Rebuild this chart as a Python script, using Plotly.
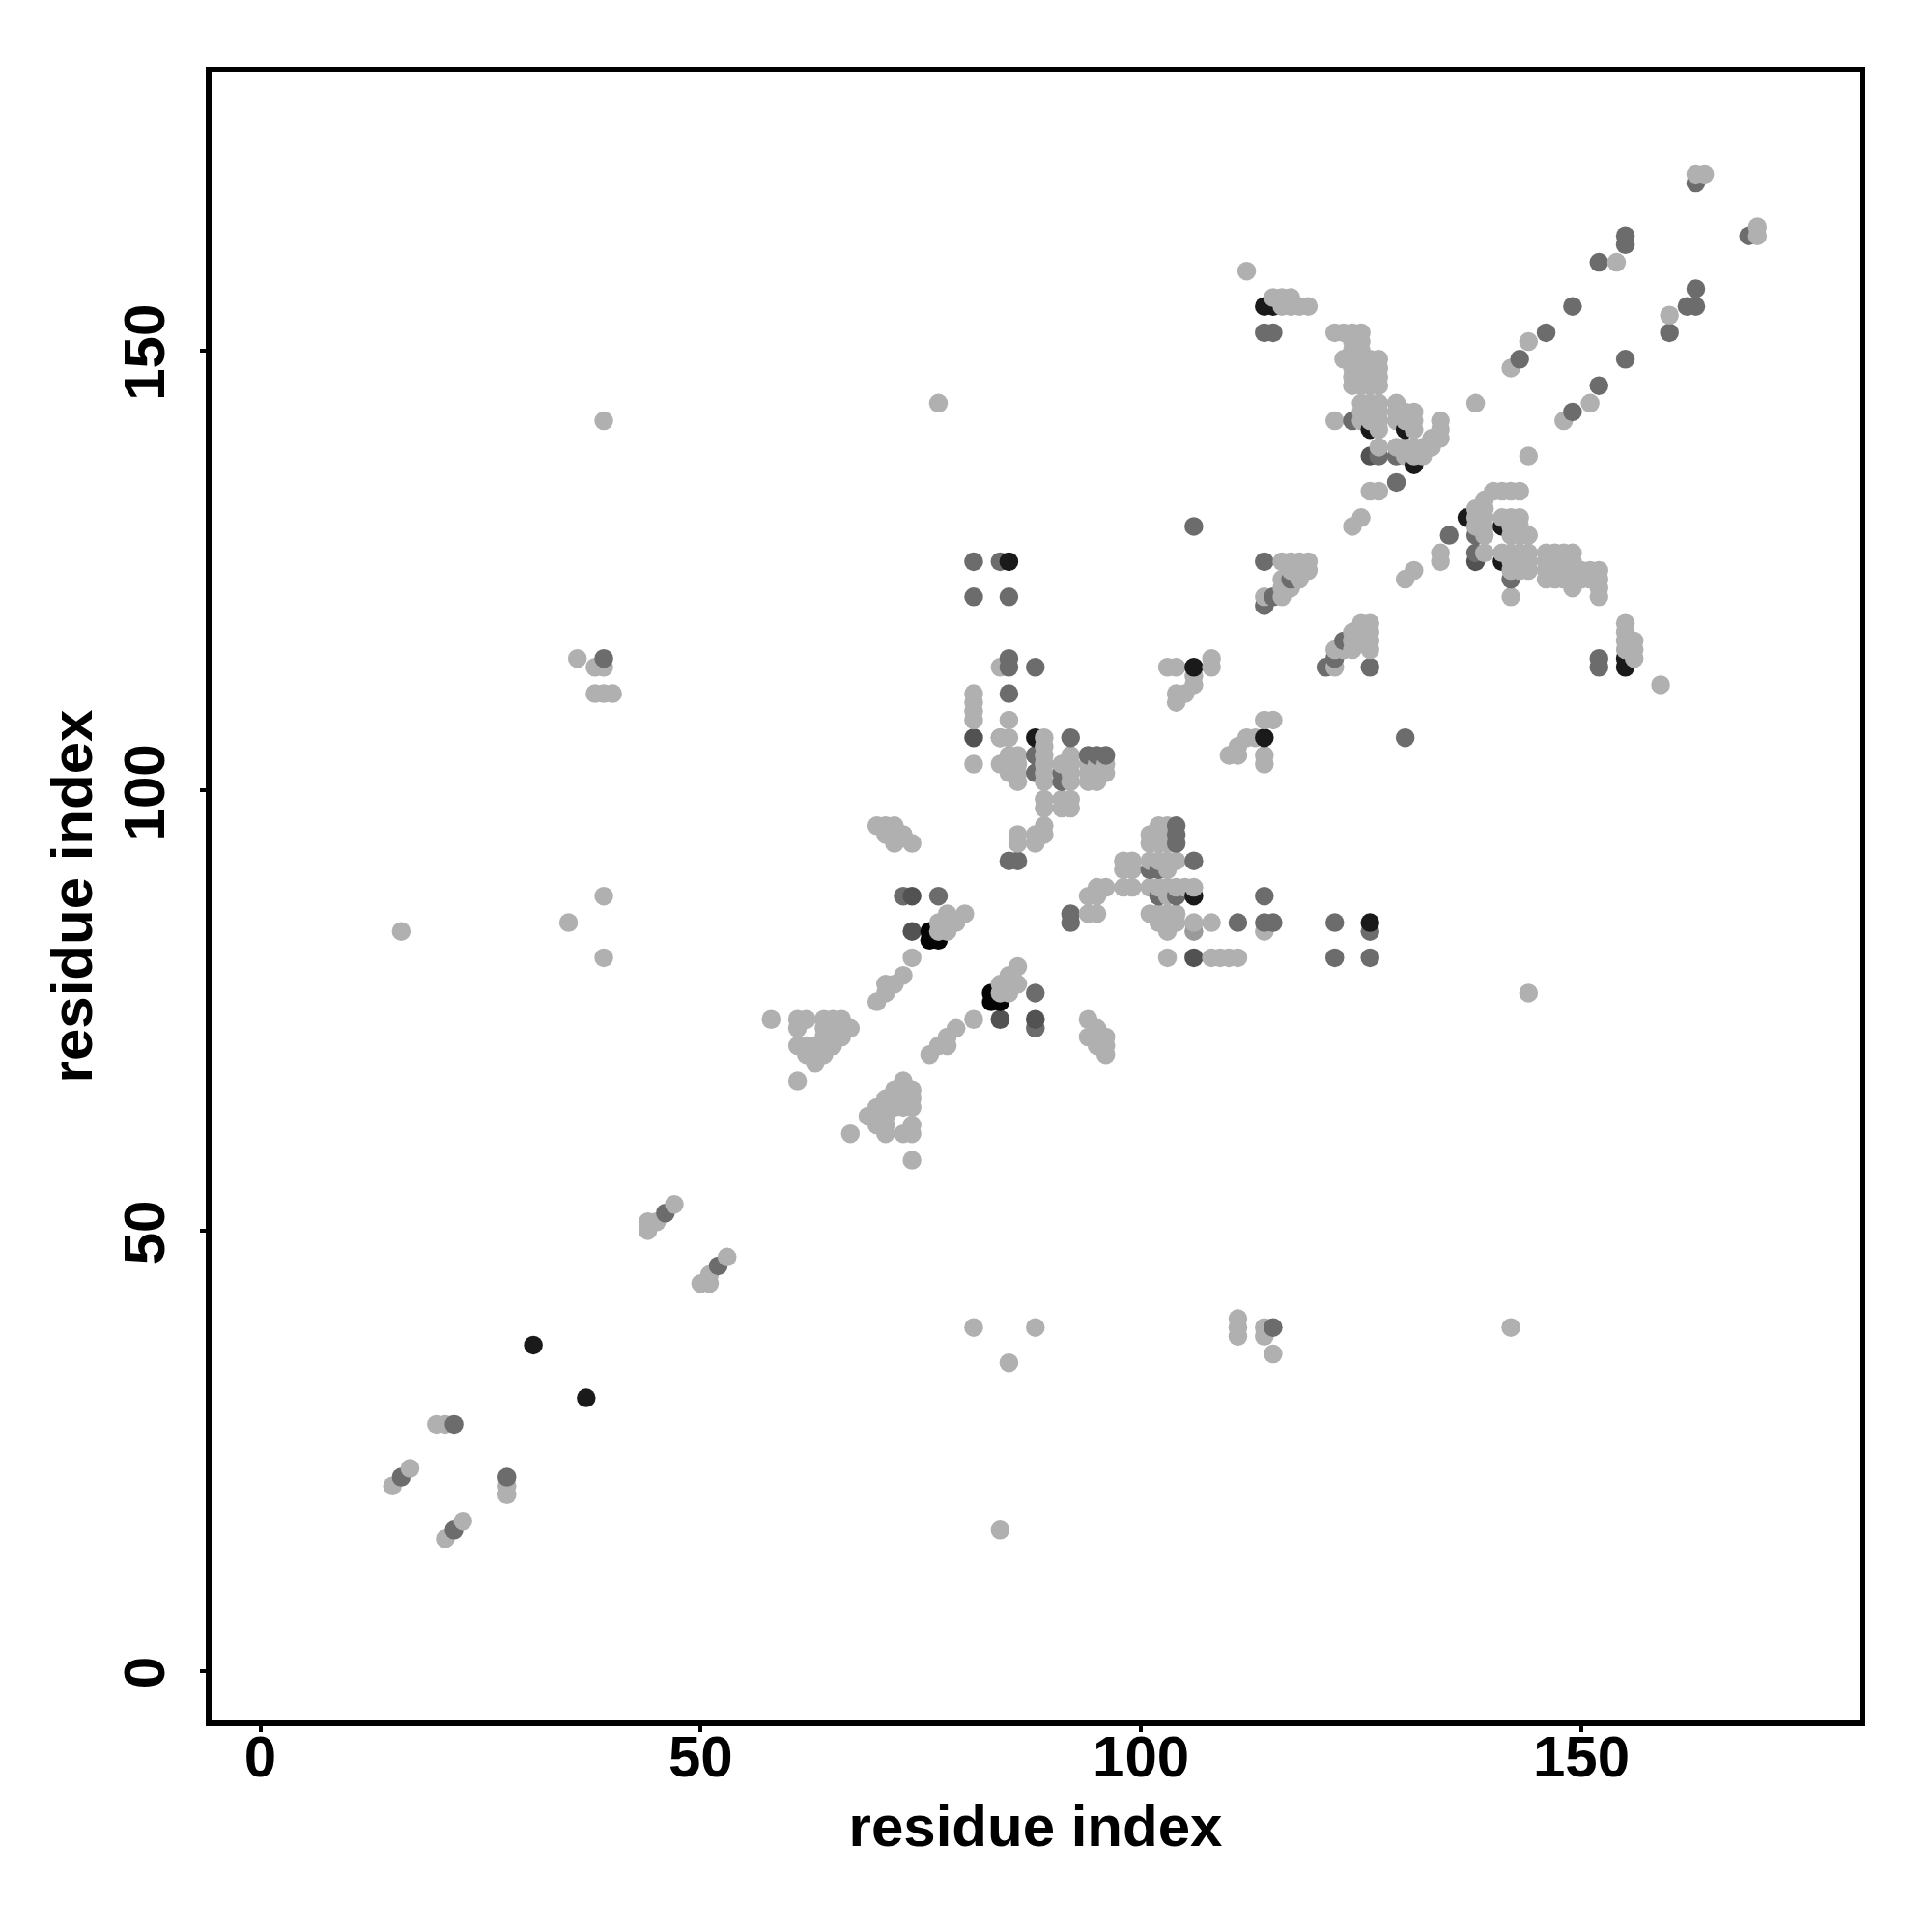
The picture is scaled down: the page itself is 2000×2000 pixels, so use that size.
import plotly.graph_objects as go

# residue contacts, grouped by y-residue: {j: [i, ...]}
light_rows = {
    170:[163,164],164:[170],163:[170],160:[154],159:[112],156:[115,116,117],155:[116,117,118,119],
    154:[160],152:[122,123,124,125],151:[124,125,144],150:[124,125],149:[123,124,125,126,127],
    148:[124,125,126,127,142],147:[124,125,126,127],146:[124,125,126,127],
    144:[77,125,126,127,129,138,151],143:[125,126,127,129,130,131],
    142:[39,122,125,126,127,129,130,131,134,148],141:[127,131,134],140:[133,134],
    139:[127,129,130,131,132,133],138:[130,131,132,144],134:[126,127,140,141,142,143],133:[139],
    132:[138,139],131:[125,138,139,141,142,143],130:[124,138,139,142,143],129:[139,142,143,144],
    127:[134,139,141,142,143,144,146,147,148,149],
    126:[116,117,118,119,134,142,143,144,146,147,148,149],
    125:[117,118,119,131,142,143,144,146,147,148,149,150,151,152],
    124:[116,118,130,146,147,148,149,150,151,152],123:[116,117,149,152],122:[114,116,142,152],
    119:[125,126,155],118:[124,125,126,155],117:[124,125,126,155,156],
    116:[122,123,124,126,155,156],115:[36,108,156],114:[38,39,84,103,104,108,122],
    113:[106],112:[106,159],111:[38,39,40,81,104,105],110:[81,104],109:[81],108:[81,85,114,115],
    106:[84,85,89,112,113],105:[89,111],104:[85,86,89,92,110,111,114],
    103:[81,84,85,86,89,91,92,94,95,96,114],102:[85,86,89,92,94,95,96],101:[86,89,92,94,95],
    99:[89,91,92],98:[89,91,92],96:[70,71,72,89,102,103],95:[71,72,73,86,88,89,101,102,103],
    94:[72,74,86,88,101,102,103],92:[98,99,101,102,103,104],91:[98,99,103],
    89:[95,96,98,99,101,102,103,104,105,106],88:[39,94,95,103],86:[78,80,94,95,101,102,103,104],
    85:[35,77,78,79,102,103,104,106,108],84:[16,77,78,103,114],81:[39,74,103,108,109,110,111],
    80:[86],79:[73,85],78:[71,72,84,85,86],77:[71,84,85,144],76:[70],
    74:[58,61,62,64,65,66,81,94],73:[61,64,65,66,67,79,95],72:[64,65,66,78,94,96],
    71:[61,62,63,64,65,77,78,95,96],70:[62,63,64,76,96],69:[63],67:[61,73],66:[72,73,74],
    65:[71,72,73,74],64:[70,71,72,73,74],63:[69,70,71],62:[70,71,74],61:[67,71,73,74],58:[74],
    53:[47],51:[44,45],50:[44],47:[53],45:[51],44:[50,51],40:[111],39:[81,88,111,114,142],
    38:[111,114],36:[115],35:[85],28:[20,21],23:[17],21:[15,28],20:[28],17:[23],16:[84],15:[21],
}
mid_rows = {84:[106],106:[84]}
dark_rows = {
    169:[163],163:[155,169],162:[155],160:[152],157:[163],155:[149,162,163],152:[114,115,146,160],
    149:[143,155],146:[152],143:[149],142:[124],138:[127,129],135:[129],130:[106],129:[135,138],
    127:[138],126:[81,84,114],124:[117,142],122:[81,85,115],121:[114],117:[123],
    115:[39,85,122,152],114:[85,88,121,126,152],111:[85],106:[92,130],104:[88,94,95,96],
    102:[88,91],101:[91],96:[104],95:[104],94:[104],92:[85,86,106],91:[101,102],
    88:[73,77,102,104,114],86:[92],85:[92,111,114,115,122],84:[126],81:[122,126],77:[88],73:[88],
    52:[46],46:[52],39:[115],28:[22],22:[16,28],16:[22],
}
deep_rows = {138:[126],126:[138],106:[81],88:[74],84:[74],81:[106],74:[84,88]}
black_rows = {
    155:[114,115],141:[126,130],137:[131],131:[137],130:[141],126:[85,141],115:[155],
    114:[106,155],106:[88,114],88:[106],85:[126],37:[31],31:[37],
}
jet_rows = {84:[76],83:[76,77],77:[83],76:[83,84]}

x_ticks = [0, 50, 100, 150]
x_title = "residue index"
y_title = "residue index"

FONT = "Liberation Sans"

points = []
for rows, colour in [(jet_rows, "#050505"), (black_rows, "#1a1a1a"), (deep_rows, "#525252"),
                     (dark_rows, "#6c6c6c"), (mid_rows, "#9a9a9a"), (light_rows, "#b0b0b0")]:
    for j, items in rows.items():
        for i in items:
            points.append((i, j, colour))
# the reference paints contacts residue by residue: later ones sit on top
points.sort(key=lambda p: (p[0], p[1]))

fig = go.Figure(go.Scatter(
    x=[p[0] for p in points], y=[p[1] for p in points], mode="markers", showlegend=False,
    marker=dict(size=19.5, color=[p[2] for p in points], line=dict(width=0))))

tick_font = dict(family=FONT, size=60, color="black", weight="bold")
axis = dict(showgrid=False, zeroline=False, showline=True, mirror=True, linecolor="black", linewidth=6,
            ticks="outside", ticklen=6, tickwidth=3.5, tickcolor="black",
            tickvals=x_ticks, ticktext=[str(v) for v in x_ticks], tickfont=tick_font)
fig.update_layout(
    width=2000, height=2000, paper_bgcolor="white", plot_bgcolor="white",
    margin=dict(l=211.3, r=83, t=67, b=227.3, autoexpand=False),
    font=dict(family=FONT, color="black"),
    xaxis=dict(axis, range=[-5.54, 181.59], ticklabelstandoff=-26,
               title=dict(text=x_title, font=dict(family=FONT, size=60, color="black", weight="bold"), standoff=20)),
    yaxis=dict(axis, range=[-5.64, 181.57], tickangle=-90, ticklabelstandoff=13, ticklabelshift=11,
               title=dict(text=y_title, font=dict(family=FONT, size=60, color="black", weight="bold"), standoff=3)),
)
fig.write_html("out.html")
